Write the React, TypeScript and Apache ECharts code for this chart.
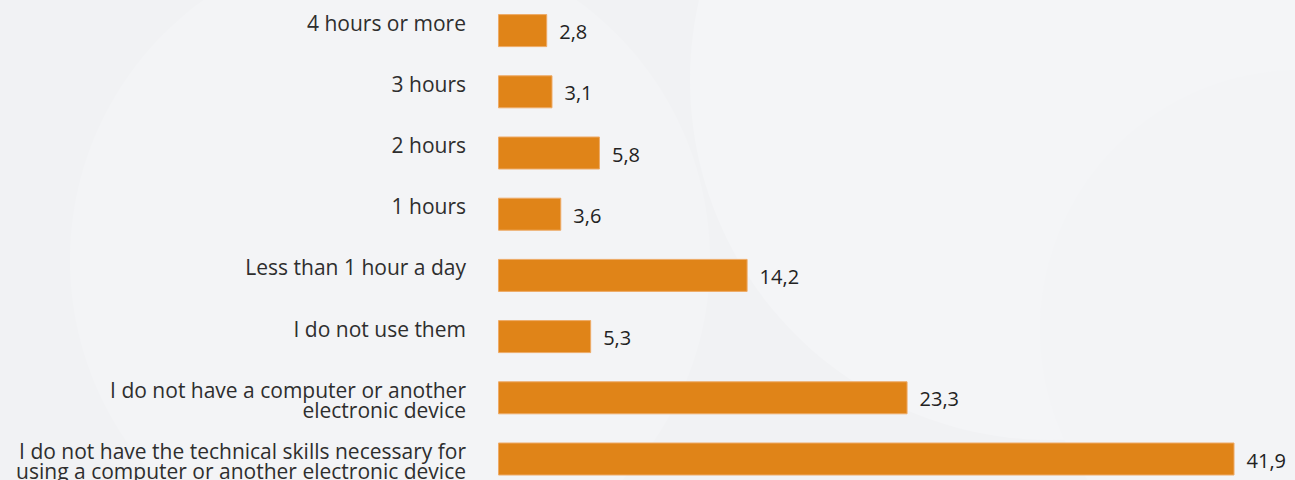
import React, { useEffect, useRef } from "react";
import * as echarts from "echarts";

const categories: string[] = [
  "4 hours or more",
  "3 hours",
  "2 hours",
  "1 hours",
  "Less than 1 hour a day",
  "I do not use them",
  "I do not have a computer or another\nelectronic device",
  "I do not have the technical skills necessary for\nusing a computer or another electronic device",
];
const values: number[] = [2.8, 3.1, 5.8, 3.6, 14.2, 5.3, 23.3, 41.9];

export default function App() {
  const ref = useRef<HTMLDivElement>(null);
  useEffect(() => {
    if (!ref.current) return;
    const chart = echarts.init(ref.current, undefined, { renderer: "svg" });
    const font = "'Open Sans', 'Noto Sans', sans-serif";
    const OFF = 20; // container starts 20px above the page top
    chart.setOption({
      animation: false,
      backgroundColor: "#f1f2f4",
      graphic: [
        { type: "circle", silent: true, z: -10, shape: { cx: 390, cy: 260 + OFF, r: 320 }, style: { fill: "#f3f4f6" } },
        { type: "circle", silent: true, z: -10, shape: { cx: 1050, cy: 80 + OFF, r: 360 }, style: { fill: "#f4f5f7" } },
        { type: "circle", silent: true, z: -9, shape: { cx: 1300, cy: 330 + OFF, r: 260 }, style: { fill: "#f3f4f6" } },
      ],
      grid: [
        { left: 498, top: OFF, width: 791, height: 489.6, outerBoundsMode: "none" },
        { left: 498, top: OFF - 18, width: 791, height: 489.6, outerBoundsMode: "none" },
      ],
      xAxis: [
        { type: "value", gridIndex: 0, min: 0, max: 45, show: false, splitLine: { show: false } },
        { type: "value", gridIndex: 1, min: 0, max: 45, show: false, splitLine: { show: false } },
      ],
      yAxis: [
        {
          type: "category",
          gridIndex: 0,
          data: categories,
          inverse: true,
          axisLine: { show: false },
          axisTick: { show: false },
          axisLabel: { show: false },
        },
        {
          type: "category",
          gridIndex: 1,
          data: categories,
          inverse: true,
          axisLine: { show: false },
          axisTick: { show: false },
          axisLabel: {
            show: true,
            margin: 32,
            fontSize: 21,
            lineHeight: 20,
            verticalAlign: "top",
            align: "right",
            color: "#2e2e2e",
            fontFamily: font,
          },
        },
      ],
      series: [
        {
          type: "bar",
          xAxisIndex: 0,
          yAxisIndex: 0,
          data: values,
          barWidth: 33,
          itemStyle: { color: "#e08418", borderColor: "#eeaa66", borderWidth: 1 },
          label: {
            show: true,
            position: "right",
            distance: 12,
            fontSize: 20,
            color: "#222",
            fontFamily: font,
            offset: [0, 1],
            formatter: (p: any) => String(p.value).replace(".", ","),
          },
        },
      ],
    });
    return () => chart.dispose();
  }, []);
  return (
    <div
      ref={ref}
      style={{ position: "fixed", left: 0, top: -20, width: 1295, height: 520 }}
    />
  );
}
